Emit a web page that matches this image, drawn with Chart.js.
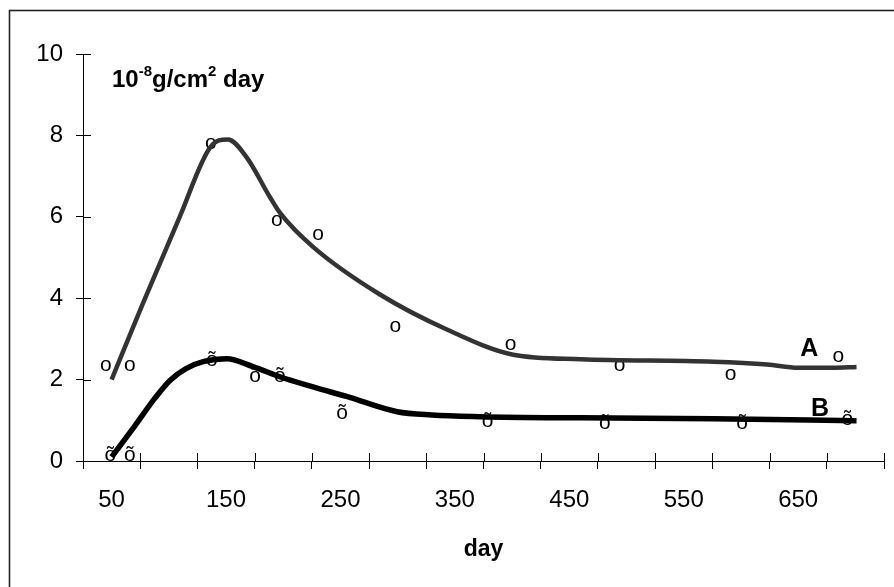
<!DOCTYPE html>
<html>
<head>
<meta charset="utf-8">
<script src="https://cdn.jsdelivr.net/npm/chart.js@4"></script>
<style>
html,body{margin:0;padding:0;background:#fff;}
#wrap{width:894px;height:587px;position:relative;}
</style>
</head>
<body>
<div id="wrap"><canvas id="c" width="894" height="587"></canvas></div>
<script>
// ---- data ----
const curveADays = [50, 77, 109.5, 136, 151.6, 168, 188, 197, 226, 284.5, 343, 401, 460, 576, 623, 650, 680, 701];
const curveAValues = [2.0, 3.85, 6.0, 7.7, 7.9, 7.46, 6.5, 6.1, 5.26, 4.09, 3.23, 2.61, 2.5, 2.44, 2.37, 2.29, 2.29, 2.31];
const curveBDays = [50, 70, 88, 101, 115, 130, 150.6, 173.5, 197, 226, 256, 299.5, 330, 372, 460, 576, 701];
const curveBValues = [0.1, 0.85, 1.55, 1.98, 2.27, 2.44, 2.51, 2.32, 2.07, 1.82, 1.58, 1.21, 1.13, 1.09, 1.06, 1.04, 0.99];
const pointsADays = [45, 66, 136.7, 194.5, 230.4, 298, 398.6, 494, 591, 685];
const pointsAValues = [2.34, 2.34, 7.81, 5.9, 5.56, 3.3, 2.85, 2.34, 2.12, 2.56];
const pointsBDays = [49, 66, 137.6, 175.3, 197, 251.5, 378.5, 481, 601, 693];
const pointsBValues = [0.13, 0.13, 2.46, 2.07, 2.07, 1.16, 0.96, 0.92, 0.92, 1.01];
const xTickValues = [25, 75, 125, 175, 225, 275, 325, 375, 425, 475, 525, 575, 625, 675, 725];
const xLabelValues = [50, 150, 250, 350, 450, 550, 650];
const yTickValues = [0, 2, 4, 6, 8, 10];
const markerA = 'o';
const markerB = 'õ';
const seriesNames = ['A', 'B'];

const FONT = '"Liberation Sans", Arial, sans-serif';
const toXY = (xs, ys) => xs.map((x, i) => ({x: x, y: ys[i]}));

const decor = {
  id: 'decor',
  beforeDraw(chart) {
    const ctx = chart.ctx;
    ctx.save();
    ctx.fillStyle = '#fff';
    ctx.fillRect(0, 0, chart.width, chart.height);
    ctx.strokeStyle = '#222';
    ctx.lineWidth = 1.6;
    ctx.strokeRect(9.5, 10.5, 920, 620);
    ctx.restore();
  },
  beforeDatasetsDraw(chart) {
    const ctx = chart.ctx;
    ctx.save();
    ctx.fillStyle = '#000';
    ctx.font = '21px ' + FONT;
    ctx.textAlign = 'center';
    ctx.textBaseline = 'alphabetic';
    [[2, markerA], [3, markerB]].forEach(([di, ch]) => {
      chart.getDatasetMeta(di).data.forEach(el => {
        ctx.fillText(ch, el.x, el.y + 5.4);
      });
    });
    ctx.restore();
  },
  afterDraw(chart) {
    const ctx = chart.ctx;
    const xs = chart.scales.x, ys = chart.scales.y;
    ctx.save();
    // inner halves of tick marks (ticks cross the axes)
    ctx.strokeStyle = '#000';
    ctx.lineWidth = 1;
    ctx.beginPath();
    const yb = ys.getPixelForValue(0);
    xTickValues.forEach(v => {
      const px = Math.round(xs.getPixelForValue(v)) + 0.5;
      ctx.moveTo(px, yb); ctx.lineTo(px, yb - 8);
    });
    const xl = xs.getPixelForValue(25);
    yTickValues.forEach(v => {
      const py = Math.round(ys.getPixelForValue(v)) + 0.5;
      ctx.moveTo(xl, py); ctx.lineTo(xl + 8, py);
    });
    ctx.stroke();

    // unit label
    ctx.fillStyle = '#000';
    ctx.textBaseline = 'alphabetic';
    ctx.textAlign = 'left';
    let x = 112, y = 87;
    const big = 'bold 24px ' + FONT, small = 'bold 15px ' + FONT;
    const parts = [['10', big, 0], ['-8', small, -11], ['g/cm', big, 0], ['2', small, -11], [' day', big, 0]];
    parts.forEach(([t, f, dy]) => {
      ctx.font = f;
      ctx.fillText(t, x, y + dy);
      x += ctx.measureText(t).width;
    });

    // series labels
    ctx.font = 'bold 25px ' + FONT;
    ctx.textAlign = 'center';
    ctx.textBaseline = 'middle';
    ctx.fillText(seriesNames[0], xs.getPixelForValue(659.6), ys.getPixelForValue(2.74));
    ctx.fillText(seriesNames[1], xs.getPixelForValue(669), ys.getPixelForValue(1.27));
    ctx.restore();
  }
};

new Chart(document.getElementById('c'), {
  type: 'line',
  data: {
    datasets: [
      {label: 'A', data: toXY(curveADays, curveAValues), borderColor: '#333333', borderWidth: 4.5, pointRadius: 0, cubicInterpolationMode: 'monotone', fill: false},
      {label: 'B', data: toXY(curveBDays, curveBValues), borderColor: '#000000', borderWidth: 5.5, pointRadius: 0, cubicInterpolationMode: 'monotone', fill: false},
      {label: 'A points', type: 'scatter', data: toXY(pointsADays, pointsAValues), pointRadius: 0, showLine: false},
      {label: 'B points', type: 'scatter', data: toXY(pointsBDays, pointsBValues), pointRadius: 0, showLine: false}
    ]
  },
  options: {
    responsive: false,
    animation: false,
    events: [],
    layout: {padding: {top: 54, right: 10, left: 0, bottom: 0}},
    plugins: {legend: {display: false}, tooltip: {enabled: false}},
    scales: {
      x: {
        type: 'linear', min: 25, max: 725,
        afterBuildTicks: s => {
          s.ticks = xTickValues.concat(xLabelValues).sort((a, b) => a - b).map(v => ({value: v}));
        },
        afterFit: s => { s.height = 126; s.paddingLeft = 0; s.paddingRight = 0; },
        border: {color: '#000', width: 1},
        grid: {
          drawOnChartArea: false, tickLength: 8, lineWidth: 1,
          color: c => (c.tick && xTickValues.includes(c.tick.value)) ? '#000' : 'rgba(0,0,0,0)'
        },
        ticks: {
          autoSkip: false, maxRotation: 0, padding: 17, color: '#000',
          font: {family: FONT, size: 24},
          callback: v => xLabelValues.includes(v) ? String(v) : ''
        },
        title: {display: true, text: 'day', color: '#000', font: {family: FONT, size: 23, weight: 'bold'}, padding: {top: 0, bottom: 24}}
      },
      y: {
        min: 0, max: 10,
        afterBuildTicks: s => { s.ticks = yTickValues.map(v => ({value: v})); },
        afterFit: s => { s.width = 83; s.paddingTop = 0; s.paddingBottom = 0; },
        border: {color: '#000', width: 1},
        grid: {drawOnChartArea: false, tickLength: 7, color: '#000'},
        ticks: {padding: 13, color: '#000', font: {family: FONT, size: 24}}
      }
    }
  },
  plugins: [decor]
});
</script>
</body>
</html>
